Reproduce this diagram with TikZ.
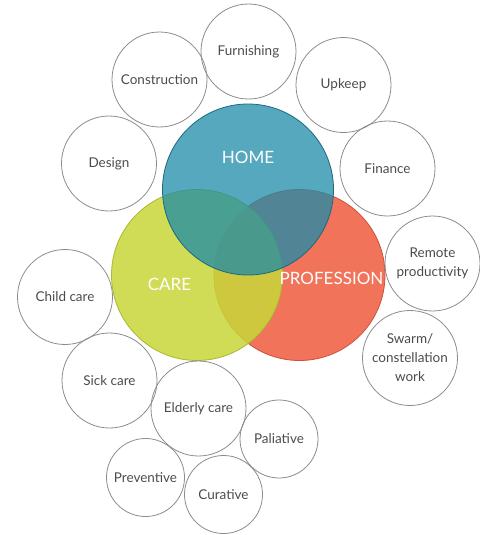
\documentclass[tikz,border=0pt]{standalone}
\usepackage{fontspec}
\setmainfont{Lato}
\definecolor{homeblue}{RGB}{29,139,168}
\definecolor{homeline}{RGB}{25,105,130}
\definecolor{caregreen}{RGB}{200,214,57}
\definecolor{careline}{RGB}{170,185,45}
\definecolor{profred}{RGB}{240,115,90}
\definecolor{profline}{RGB}{205,80,60}
\definecolor{bubbleline}{RGB}{140,140,140}
\definecolor{bubbletext}{RGB}{75,75,75}
\tikzset{
  bigset/.style={circle,minimum size=171pt,inner sep=0pt,line width=0.8pt},
  bubble/.style={circle,draw=bubbleline,line width=0.8pt,minimum size=95pt,inner sep=0pt,
    text=bubbletext,align=center,font=\fontsize{13.5}{19}\selectfont},
  smallbubble/.style={bubble,minimum size=78pt},
  setlabel/.style={text=white,font=\fontsize{17}{20}\selectfont}
}
\begin{document}
\begin{tikzpicture}[x=1pt,y=-1pt]
 \useasboundingbox (0,0) rectangle (479,535);
 % the three sets
 \node[bigset,fill=profred,draw=profline] (profession) at (299.5,275) {};
 \node[bigset,fill=caregreen,fill opacity=0.86,draw=careline] (care) at (197,275) {};
 \node[bigset,fill=homeblue,fill opacity=0.75,draw=homeline] (home) at (248,189.5) {};
 \node[setlabel] (homelabel) at (248,157) {HOME};
 \node[setlabel] (carelabel) at (169.5,284) {CARE};
 \node[setlabel] (proflabel) at (331.5,278) {PROFESSION};
 % home bubbles
 \node[bubble] (furnishing) at (248.5,51.5) {Furnishing};
 \node[bubble] (construction) at (159.5,79.5) {Construction};
 \node[bubble] (upkeep) at (343.5,85) {Upkeep};
 \node[bubble] (design) at (109,163.5) {Design};
 \node[bubble] (finance) at (387.5,168.5) {Finance};
 % profession bubbles
 \node[bubble] (remote) at (432.5,263.5) {Remote\\productivity};
 \node[bubble] (swarm) at (410,358) {Swarm/\\constellation\\work};
 % care bubbles
 \node[bubble] (childcare) at (65,297) {Child care};
 \node[bubble] (sickcare) at (109.5,380.5) {Sick care};
 \node[bubble] (elderly) at (198.5,408.5) {Elderly care};
 \node[smallbubble] (paliative) at (279,439) {Paliative};
 \node[smallbubble] (preventive) at (145.5,477.5) {Preventive};
 \node[smallbubble] (curative) at (223.5,494.5) {Curative};
\end{tikzpicture}
\end{document}
